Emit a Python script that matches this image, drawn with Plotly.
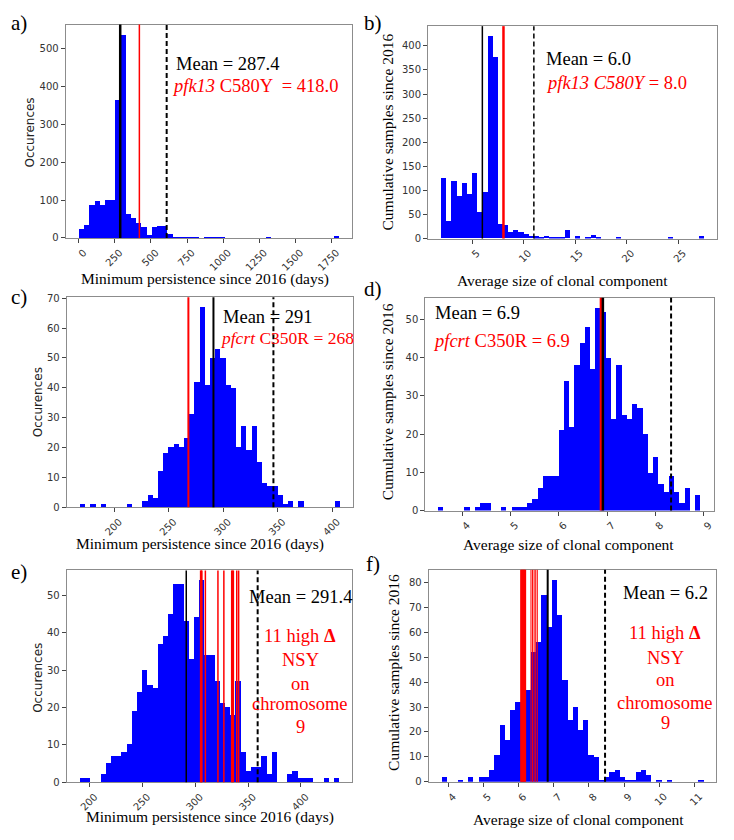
import plotly.graph_objects as go

# The page body has a default 8px margin, so the figure is drawn 8px in from the
# top-left corner; size it so that it fits the 734x840 window exactly.
PAGE_MARGIN = 8
W, H = 734 - 2 * PAGE_MARGIN, 840 - 2 * PAGE_MARGIN
SERIF = "Liberation Serif, Times New Roman, serif"
SANS = "DejaVu Sans, sans-serif"
BLUE = "#0000FF"
RED = "#FF0000"

# ---------------- data ----------------
# a) minimum persistence, pfk13
a_bin_start = 0.0
a_bin_width = 36.0
a_counts = [25, 35, 89, 99, 87, 102, 102, 365, 537, 65,
            54, 40, 31, 9, 30, 32, 32, 12, 2, 3,
            3, 3, 3, 0, 3, 2, 3, 2, 0, 0,
            0, 0, 0, 0, 0, 0, 2, 0, 0, 0,
            0, 0, 0, 0, 0, 0, 0, 0, 0, 6]
a_mean = 287.4
a_marker = [420.0]
a_cutoff = 609.0
a_xticks = [0, 250, 500, 750, 1000, 1250, 1500, 1750]
a_yticks = [0, 100, 200, 300, 400, 500]

# b) average clonal component size, pfk13
b_bin_start = 2.0
b_bin_width = 0.5
b_counts = [125, 36, 120, 88, 115, 92, 135, 55, 96, 420,
            377, 30, 27, 14, 17, 14, 10, 6, 4, 2,
            5, 1, 1, 1, 17, 0, 4, 0, 1, 7,
            2, 0, 0, 0, 1, 0, 0, 0, 0, 0,
            0, 0, 0, 0, 2, 0, 0, 0, 0, 0, 4]
b_mean = 6.0
b_marker = [8.05]
b_cutoff = 11.0
b_xticks = [5, 10, 15, 20, 25]
b_yticks = [0, 50, 100, 150, 200, 250, 300, 350, 400]

# c) minimum persistence, pfcrt
c_bin_start = 168.3
c_bin_width = 4.77
c_counts = [1, 0, 1, 0, 1, 0, 0, 0, 0, 1,
            0, 0, 2, 4, 3, 12, 18, 20, 21, 20,
            23, 31, 42, 67, 41, 50, 53, 50, 41, 40,
            20, 27, 19, 27, 15, 8, 7, 7, 4, 1,
            2, 0, 2, 0, 0, 0, 0, 0, 0, 2]
c_mean = 291.0
c_marker = [268.0]
c_cutoff = 346.0
c_xticks = [200, 250, 300, 350, 400]
c_yticks = [0, 10, 20, 30, 40, 50, 60, 70]

# d) average clonal component size, pfcrt
d_bin_start = 3.51
d_bin_width = 0.1084
d_counts = [1, 0, 0, 0, 0, 1, 0, 1, 2, 2,
            0, 0, 1, 0, 1, 1, 1, 2, 3, 6,
            9, 9, 9, 21, 34, 22, 38, 44, 48, 37,
            53, 52, 40, 24, 38, 25, 24, 28, 27, 20,
            10, 14, 7, 5, 9, 5, 2, 6, 0, 4]
d_mean = 6.91
d_marker = [6.87]
d_cutoff = 8.32
d_xticks = [4, 5, 6, 7, 8, 9]
d_yticks = [0, 10, 20, 30, 40, 50]

# e) minimum persistence, chromosome 9 NSY
e_bin_start = 190.5
e_bin_width = 4.905
e_counts = [1, 1, 0, 0, 2, 5, 7, 7, 8, 10,
            19, 24, 30, 26, 25, 37, 39, 45, 53, 53,
            43, 33, 44, 54, 34, 34, 27, 21, 20, 18,
            27, 8, 3, 4, 4, 7, 2, 8, 0, 0,
            2, 3, 1, 1, 1, 0, 0, 1, 0, 1]
e_mean = 291.4
e_marker = [305.0, 305.6, 306.2, 309.5, 321.4, 327.0, 334.4, 335.2, 336.0, 339.2, 341.0]
e_cutoff = 359.0
e_xticks = [200, 250, 300, 350, 400]
e_yticks = [0, 10, 20, 30, 40, 50]

# f) average clonal component size, chromosome 9 NSY
f_bin_start = 3.82
f_bin_width = 0.1486
f_counts = [2, 0, 0, 1, 0, 2, 0, 2, 2, 5,
            11, 23, 17, 29, 32, 44, 37, 52, 56, 75,
            62, 81, 67, 41, 25, 30, 21, 25, 11, 10,
            1, 2, 4, 5, 2, 1, 1, 4, 5, 3,
            0, 1, 0, 1, 0, 0, 0, 0, 0, 1]
f_mean = 6.83
f_marker = [6.07, 6.095, 6.12, 6.145, 6.17, 6.195, 6.355, 6.40, 6.445, 6.49, 6.535]
f_cutoff = 8.46
f_xticks = [4, 5, 6, 7, 8, 9, 10, 11]
f_yticks = [0, 10, 20, 30, 40, 50, 60, 70, 80]

X_PERSIST = "Minimum persistence since 2016 (days)"
X_CLONAL = "Average size of clonal component"
Y_OCC = "Occurences"
Y_CUM = "Cumulative samples since 2016"

# ---------------- layout geometry (window pixels) ----------------
panels = [
    dict(tag="a)", start=a_bin_start, width=a_bin_width, counts=a_counts, mean=a_mean,
         marker=a_marker, cutoff=a_cutoff, xticks=a_xticks, yticks=a_yticks,
         box=(65.7, 351.7, 20.7, 236.7), xt=X_PERSIST, yt=Y_OCC,
         mean_w=2.5, mark_w=[1.5], cut_w=2,
         tagpos=(19, 19), xtpos=(205, 278), ytpos=(30, 130)),
    dict(tag="b)", start=b_bin_start, width=b_bin_width, counts=b_counts, mean=b_mean,
         marker=b_marker, cutoff=b_cutoff, xticks=b_xticks, yticks=b_yticks,
         box=(428.0, 717.0, 22.3, 237.3), xt=X_CLONAL, yt=Y_CUM,
         mean_w=1.5, mark_w=[2.5], cut_w=1.5,
         tagpos=(373, 19), xtpos=(562, 280), ytpos=(388, 130)),
    dict(tag="c)", start=c_bin_start, width=c_bin_width, counts=c_counts, mean=c_mean,
         marker=c_marker, cutoff=c_cutoff, xticks=c_xticks, yticks=c_yticks,
         box=(66.7, 352.7, 296.7, 509.3), xt=X_PERSIST, yt=Y_OCC,
         mean_w=2, mark_w=[2], cut_w=2,
         tagpos=(19, 297), xtpos=(200, 547), ytpos=(38, 403)),
    dict(tag="d)", start=d_bin_start, width=d_bin_width, counts=d_counts, mean=d_mean,
         marker=d_marker, cutoff=d_cutoff, xticks=d_xticks, yticks=d_yticks,
         box=(425.3, 713.7, 297.3, 512.7), xt=X_CLONAL, yt=Y_CUM,
         mean_w=2.5, mark_w=[2.5], cut_w=2,
         tagpos=(373, 288), xtpos=(568, 547), ytpos=(387, 403)),
    dict(tag="e)", start=e_bin_start, width=e_bin_width, counts=e_counts, mean=e_mean,
         marker=e_marker, cutoff=e_cutoff, xticks=e_xticks, yticks=e_yticks,
         box=(66.7, 351.7, 573.3, 787.7), xt=X_PERSIST, yt=Y_OCC,
         mean_w=1.5, mark_w=[1.5], cut_w=2,
         tagpos=(19, 575), xtpos=(210, 823), ytpos=(38, 682)),
    dict(tag="f)", start=f_bin_start, width=f_bin_width, counts=f_counts, mean=f_mean,
         marker=f_marker, cutoff=f_cutoff, xticks=f_xticks, yticks=f_yticks,
         box=(428.7, 716.3, 572.7, 787.3), xt=X_CLONAL, yt=Y_CUM,
         mean_w=2, mark_w=[1.6] * 6 + [1.0] * 5, cut_w=2,
         tagpos=(373, 567), xtpos=(578, 825), ytpos=(394, 677)),
]


def px(x):
    return (x - PAGE_MARGIN) / W


def py(y):
    return 1 - (y - PAGE_MARGIN) / H


fig = go.Figure()
layout = dict(width=W, height=H, margin=dict(l=0, r=0, t=0, b=0),
              paper_bgcolor="white", plot_bgcolor="white", bargap=0,
              showlegend=False)
shapes = []
annotations = []

for i, p in enumerate(panels, start=1):
    s = "" if i == 1 else str(i)
    n = len(p["counts"])
    centers = [p["start"] + p["width"] * (k + 0.5) for k in range(n)]
    fig.add_trace(go.Bar(x=centers, y=p["counts"], width=p["width"],
                         marker=dict(color=BLUE, line=dict(width=0)),
                         xaxis="x" + s, yaxis="y" + s, hoverinfo="skip"))
    lo = p["start"]
    hi = p["start"] + p["width"] * n
    pad = 0.05 * (hi - lo)
    l, r, t, b = p["box"]
    layout["xaxis" + s] = dict(
        domain=[px(l), px(r)], range=[lo - pad, hi + pad], anchor="y" + s,
        tickvals=p["xticks"], ticktext=[str(v) for v in p["xticks"]],
        tickangle=-45, ticklabelshift=5,
        showline=True, mirror=True, linecolor="#8c8c8c", linewidth=1,
        ticks="outside", ticklen=4, tickcolor="#444", showgrid=False, zeroline=False,
        tickfont=dict(family=SANS, size=10, color="#333"))
    layout["yaxis" + s] = dict(
        domain=[py(b), py(t)], range=[0, max(p["counts"]) * 1.05], anchor="x" + s,
        tickvals=p["yticks"],
        showline=True, mirror=True, linecolor="#8c8c8c", linewidth=1,
        ticks="outside", ticklen=4, tickcolor="#444", showgrid=False, zeroline=False,
        tickfont=dict(family=SANS, size=10, color="#333"))

    def vline(v, color, width, dash="solid"):
        shapes.append(dict(type="line", xref="x" + s, yref="y" + s + " domain",
                           x0=v, x1=v, y0=0, y1=1, layer="above",
                           line=dict(color=color, width=width, dash=dash)))

    vline(p["cutoff"], "black", p["cut_w"], "5px,3px")
    widths = p["mark_w"] * (len(p["marker"]) // len(p["mark_w"]))
    for v, w in zip(p["marker"], widths):
        vline(v, RED, w)
    vline(p["mean"], "black", p["mean_w"])

    # panel tag
    annotations.append(dict(text=p["tag"], x=px(p["tagpos"][0]), y=py(p["tagpos"][1]),
                            xref="paper", yref="paper", showarrow=False,
                            xanchor="center", yanchor="middle",
                            font=dict(family=SERIF, size=21, color="black")))
    # axis titles
    annotations.append(dict(text=p["xt"], x=px(p["xtpos"][0]), y=py(p["xtpos"][1]),
                            xref="paper", yref="paper", showarrow=False,
                            xanchor="center", yanchor="middle",
                            font=dict(family=SERIF, size=15.5, color="black")))
    yfont = dict(family=SANS, size=12, color="#222") if p["yt"] == Y_OCC else \
        dict(family=SERIF, size=15.5, color="black")
    annotations.append(dict(text=p["yt"], x=px(p["ytpos"][0]), y=py(p["ytpos"][1]),
                            xref="paper", yref="paper", showarrow=False, textangle=-90,
                            xanchor="center", yanchor="middle", font=yfont))


def note(text, x, y, color="black", anchor="left", size=18.5):
    annotations.append(dict(text=text, x=px(x), y=py(y), xref="paper", yref="paper",
                            showarrow=False, xanchor=anchor, yanchor="middle",
                            font=dict(family=SERIF, size=size, color=color)))


note("Mean = 287.4", 174, 61)
note("<i>pfk13</i> C580Y  = 418.0", 170, 83, RED)
note("Mean = 6.0", 544, 56)
note("<i>pfk13 C580Y</i> = 8.0", 544, 80, RED)
note("Mean = 291", 221, 317)
note("<i>pfcrt</i> C350R = 268", 218, 338, RED, size=17.5)
note("Mean = 6.9", 433, 313)
note("<i>pfcrt</i> C350R = 6.9", 431, 341, RED)
note("Mean = 291.4", 247, 600)
for txt, yy in [("11 high <b>Δ</b>", 640), ("NSY", 664), ("on", 688),
                ("chromosome", 709), ("9", 732)]:
    note(txt, 300, yy, RED, anchor="center")
note("Mean = 6.2", 621, 596)
for txt, yy in [("11 high <b>Δ</b>", 637), ("NSY", 662), ("on", 684),
                ("chromosome", 707), ("9", 728)]:
    note(txt, 665, yy, RED, anchor="center")

layout["shapes"] = shapes
layout["annotations"] = annotations
fig.update_layout(**layout)
fig.write_html("out.html")
